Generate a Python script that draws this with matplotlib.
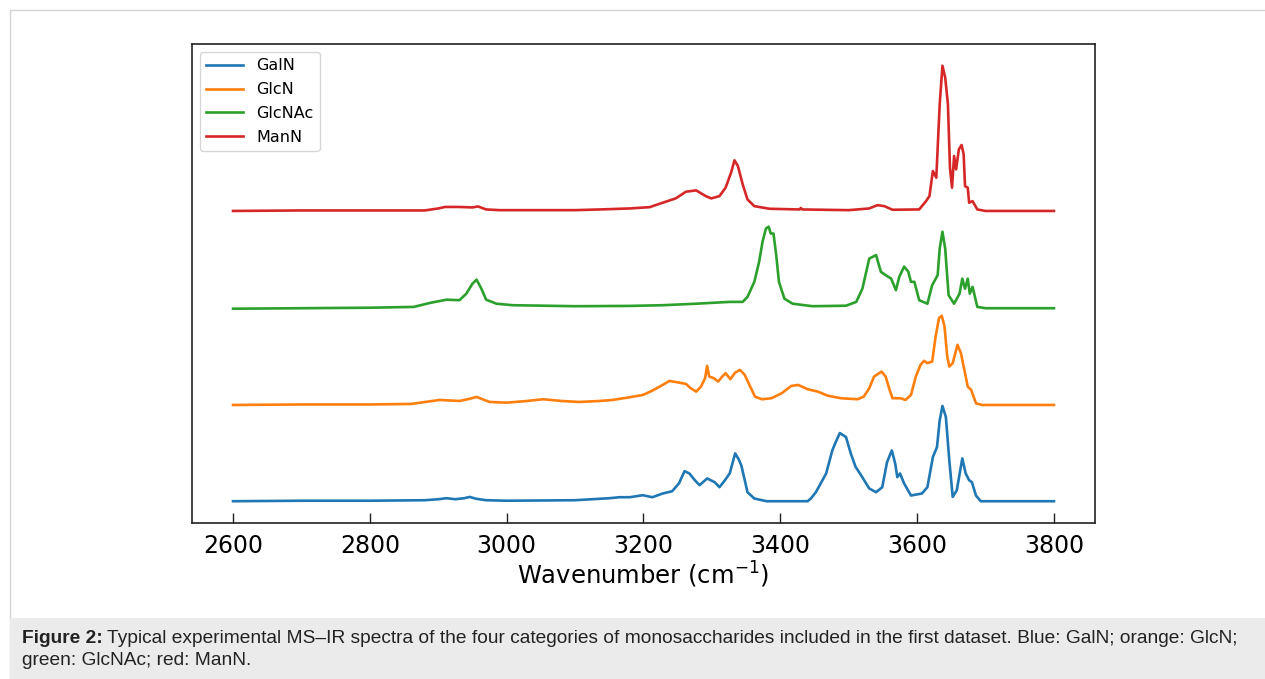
import matplotlib
matplotlib.use("Agg")
import matplotlib.pyplot as plt
from matplotlib.patches import Rectangle
import numpy as np

# ---- data: (wavenumber, intensity above own baseline) ----
galn = [(2600,0),(2700,0.5),(2800,0.5),(2880,1),(2900,2),(2912,3),(2925,2),(2938,3),(2946,4.3),
        (2955,2.5),(2970,1),(3000,0.5),(3100,1),(3150,3),(3165,4),(3180,4),(3199,6),(3213,4),
        (3228,7.7),(3242,10),(3252,18),(3260,30),(3267,27.7),(3275,21),(3282,16),(3293,22.7),
        (3304,19),(3311,14),(3318,20),(3326,27.7),(3334,47.7),(3339,42),(3343,35.7),(3347,24),
        (3352,9),(3362,2.7),(3380,0),(3440,0),(3445,3),(3452,9),(3467,27.7),(3476,50.7),(3481,59),
        (3487,68),(3496,64),(3503,47.7),(3510,34.3),(3518,26),(3530,12.7),(3540,9),(3549,14),
        (3556,39),(3563,50.7),(3568,37.3),(3571,24),(3575,27.7),(3581,17.7),(3591,5.7),(3607,7.7),
        (3615,14),(3623,44),(3629,54),(3633,80.7),(3637,95),(3642,84),(3647,41),(3652,4.3),
        (3658,11),(3666,42.7),(3671,27.7),(3676,21),(3680,19),(3686,5.7),(3693,0),(3800,0)]

glcn = [(2600,0),(2700,0.5),(2800,0.5),(2860,1),(2902,5),(2931,4),(2945,6),(2956,8),(2975,3),
        (3000,2.3),(3030,4),(3053,5.7),(3080,4),(3106,3),(3136,4),(3155,5),(3180,7.7),(3199,10),
        (3213,14.3),(3228,20),(3238,24),(3252,22.3),(3262,21),(3269,16.7),(3277,13.3),(3284,18.3),
        (3290,26.7),(3293,39),(3296,28.3),(3303,26.7),(3309,23.3),(3315,28.3),(3320,31.7),
        (3327,25.7),(3334,32.3),(3341,35),(3348,30),(3356,18.3),(3363,8.3),(3373,5.7),(3387,6.7),
        (3402,11.7),(3416,19),(3426,20),(3440,15.7),(3455,13.3),(3469,9.3),(3489,6.7),(3513,5.7),
        (3522,8.3),(3530,16.7),(3537,28.3),(3548,33.3),(3554,28.3),(3559,16.7),(3564,6.7),
        (3576,6.7),(3583,5),(3591,10),(3598,28.3),(3605,40),(3610,44),(3615,41.7),(3622,43.3),
        (3627,68.3),(3632,86.7),(3636,89),(3640,78.3),(3644,48.3),(3647,38.3),(3652,41.7),
        (3659,60),(3664,51.7),(3669,35),(3674,18.3),(3679,15),(3686,1.7),(3695,0),(3800,0)]

glcnac = [(2600,0),(2700,0.5),(2800,1),(2864,1.8),(2888,5.8),(2912,9),(2931,8.5),(2941,15),
          (2950,25),(2956,29),(2963,20),(2970,9),(2985,5),(3009,3.5),(3100,2.5),(3180,2.8),
          (3228,3.5),(3277,5),(3326,6.8),(3345,6.8),(3352,11.8),(3362,26.8),(3369,46.8),
          (3374,66.8),(3379,80),(3383,81.8),(3386,75),(3390,75),(3394,53.5),(3398,26.8),(3406,10),
          (3418,5),(3447,2.5),(3496,3),(3511,6.8),(3520,20),(3530,50),(3540,53.5),(3547,36.8),
          (3554,33.5),(3562,30),(3569,18.5),(3574,32),(3581,42),(3587,37),(3591,26.8),(3596,26.8),
          (3603,8.5),(3615,5),(3622,23.5),(3630,33.5),(3633,60),(3637,76.8),(3641,60),(3646,13.5),
          (3654,5),(3662,15),(3666,30),(3670,20),(3674,30),(3677,15),(3681,21.8),(3688,1.8),
          (3700,0.5),(3800,0.5)]

mann = [(2600,0),(2700,0.5),(2800,0.5),(2880,0.5),(2900,2.5),(2910,4),(2930,4),(2950,3.5),
        (2958,4.5),(2970,1.5),(2990,0.8),(3100,0.8),(3136,1.5),(3180,2.5),(3209,3.8),(3228,8.2),
        (3247,12.5),(3262,19.2),(3277,20.5),(3291,14.8),(3299,12.5),(3311,14.8),(3320,23.2),
        (3328,38.2),(3333,50.5),(3338,44.8),(3345,26.5),(3352,11.5),(3362,4.8),(3384,2.2),
        (3428,1.5),(3430,3),(3432,1.5),(3500,0.8),(3530,2.5),(3542,5.8),(3552,4.8),(3564,1.2),
        (3603,1.5),(3613,9.8),(3618,14.8),(3623,39.8),(3628,33.2),(3633,106.5),(3637,144.8),
        (3641,133.2),(3645,106.5),(3648,43.2),(3651,23.2),(3654,54.8),(3657,41.5),(3661,61.5),
        (3665,65.8),(3668,56.5),(3670,24.8),(3674,23.2),(3676,8.2),(3681,9.8),(3688,1.5),
        (3700,0),(3800,0)]

labels = ["GalN", "GlcN", "GlcNAc", "ManN"]
series = [galn, glcn, glcnac, mann]
offsets = [0, 96, 192, 289.5]
colors = ["#1f77b4", "#ff7f0e", "#2ca02c", "#d62728"]
xticks = [2600, 2800, 3000, 3200, 3400, 3600, 3800]

W, H = 1265, 679
fig = plt.figure(figsize=(W / 100, H / 100), dpi=100)

# outer light frame and caption box (drawn behind the axes)
fig.patches.append(Rectangle((10 / W, 0), 1.2, 1 - 10 / H, transform=fig.transFigure,
                             facecolor="white", edgecolor="#d4d4d4", linewidth=1.0, zorder=-2))
fig.patches.append(Rectangle((10 / W, 0), 1.2, (H - 618) / H, transform=fig.transFigure,
                             facecolor="#ebebeb", edgecolor="none", zorder=-1))

ax = fig.add_axes([192 / W, 1 - 523 / H, (1095 - 192) / W, (523 - 44) / H])
ax.set_zorder(1)
for lab, s, off, c in zip(labels, series, offsets, colors):
    w = np.array([p[0] for p in s], dtype=float)
    h = np.array([p[1] for p in s], dtype=float)
    ax.plot(w, h + off, color=c, lw=1.9, label=lab)

ax.set_xticks(xticks)
ax.set_yticks([])
ax.tick_params(axis="x", direction="in", length=7, width=1, labelsize=17, pad=8, color="#222222")
for sp in ax.spines.values():
    sp.set_linewidth(1.2)
    sp.set_color("#222222")
ax.set_xlabel("Wavenumber (cm$^{-1}$)", fontsize=17.5, labelpad=1)
ax.legend(loc="upper left", fontsize=11.5, handlelength=2.3, borderaxespad=0.5,
          labelspacing=0.55, framealpha=0.8, edgecolor="#cccccc")

# caption
cap_font = dict(family="Liberation Sans", fontsize=13.8, color="#222222")
t1 = fig.text(22 / W, 1 - 643 / H, "Figure 2:", fontweight="bold", va="baseline", **cap_font)
fig.canvas.draw()
bb = t1.get_window_extent(renderer=fig.canvas.get_renderer())
fig.text(bb.x1 / W + 4 / W, 1 - 643 / H,
         "Typical experimental MS\u2013IR spectra of the four categories of monosaccharides "
         "included in the first dataset. Blue: GalN; orange: GlcN;",
         va="baseline", **cap_font)
fig.text(22 / W, 1 - 665 / H, "green: GlcNAc; red: ManN.", va="baseline", **cap_font)

fig.savefig("out.png", dpi=100)
